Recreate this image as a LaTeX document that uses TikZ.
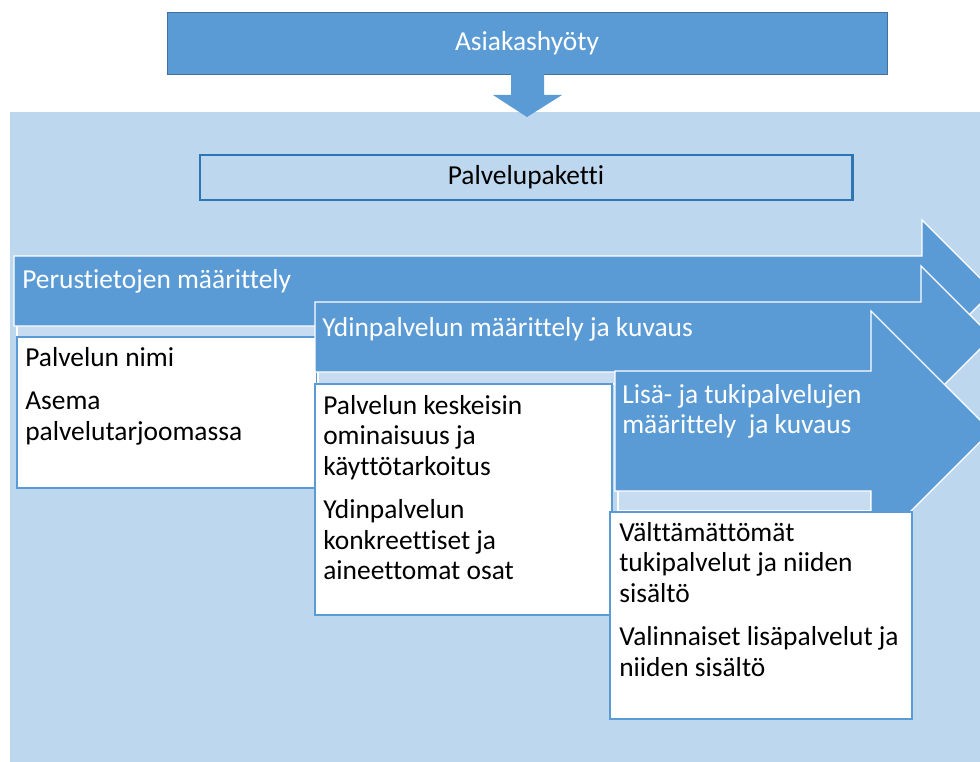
\documentclass[tikz,border=0pt]{standalone}
\usepackage{fontspec}
\setmainfont{Carlito}[Ligatures=NoCommon]

\definecolor{midblue}{HTML}{5B9BD5}
\definecolor{paleblue}{HTML}{BDD7EE}
\definecolor{stripblue}{HTML}{C7DCF0}
\definecolor{edgeblue}{HTML}{41719C}
\definecolor{frameblue}{HTML}{2E75B6}

\tikzset{
  bigtext/.style={font=\fontsize{19.5}{21.7}\selectfont, align=left, inner sep=0pt},
  itembox/.style={draw=midblue, fill=white, line width=0.8pt},
  stripbox/.style={draw=white, fill=stripblue, line width=0.8pt}
}

% stage arrow: left x, centre y, head base x, half body, half head
\newcommand{\stagearrow}[5]{%
  \filldraw[midblue, draw=white, line width=0.9pt]
    (#1,#2-#4) -- (#3,#2-#4) -- (#3,#2-#5) -- (#3+#5,#2) -- (#3,#2+#5)
    -- (#3,#2+#4) -- (#1,#2+#4) -- cycle;}

\begin{document}
\begin{tikzpicture}[x=0.025cm, y=-0.025cm]
    \useasboundingbox (0,0) rectangle (980,762);
    \clip (0,0) rectangle (980,762);

    \fill[paleblue] (10,112) rectangle (985,767);

    \node[bigtext, draw=edgeblue, fill=midblue, text=white, minimum width=18cm, minimum height=1.55cm] (benefit) at (527,43) {Asiakashyöty};
    \fill[midblue] (511,74) -- (544,74) -- (544,95) -- (562,95) -- (527,117) -- (493,95) -- (511,95) -- cycle;

    \node[bigtext, draw=frameblue, line width=2pt, minimum width=16.3cm, minimum height=1.125cm] (package) at (526,177.5) {Palvelupaketti};

    % perustiedot
    \draw[stripbox] (17,291) rectangle (922,337);
    \stagearrow{14}{291}{922}{35}{71}
    \node[bigtext, text=white, anchor=west] (basics) at (22,281) {Perustietojen määrittely};
    \draw[itembox] (17,337) rectangle (317,488);
    \node[bigtext, anchor=north west] (basicsitems) at (25,347) {Palvelun nimi\\[9pt]Asema\\palvelutarjoomassa};

    % ydinpalvelu
    \draw[stripbox] (318,337) rectangle (921,384);
    \stagearrow{315}{337}{921}{35}{71}
    \node[bigtext, text=white, anchor=west] (core) at (322,329) {Ydinpalvelun määrittely ja kuvaus};
    \draw[itembox] (315,384) rectangle (612,615);
    \node[bigtext, anchor=north west] (coreitems) at (323,395) {Palvelun keskeisin\\ominaisuus ja\\käyttötarkoitus\\[9pt]Ydinpalvelun\\konkreettiset ja\\aineettomat osat};

    % lisa- ja tukipalvelut
    \draw[stripbox] (618,431) rectangle (871,511);
    \stagearrow{615}{431}{871}{60}{120}
    \node[bigtext, text=white, anchor=north west] (extra) at (622,384) {Lisä- ja tukipalvelujen\\määrittely\ \ ja kuvaus};
    \draw[itembox] (610,512) rectangle (912,719);
    \node[bigtext, anchor=north west] (extraitems) at (619,522) {Välttämättömät\\tukipalvelut ja niiden\\sisältö\\[9pt]Valinnaiset lisäpalvelut ja\\niiden sisältö};
\end{tikzpicture}
\end{document}
